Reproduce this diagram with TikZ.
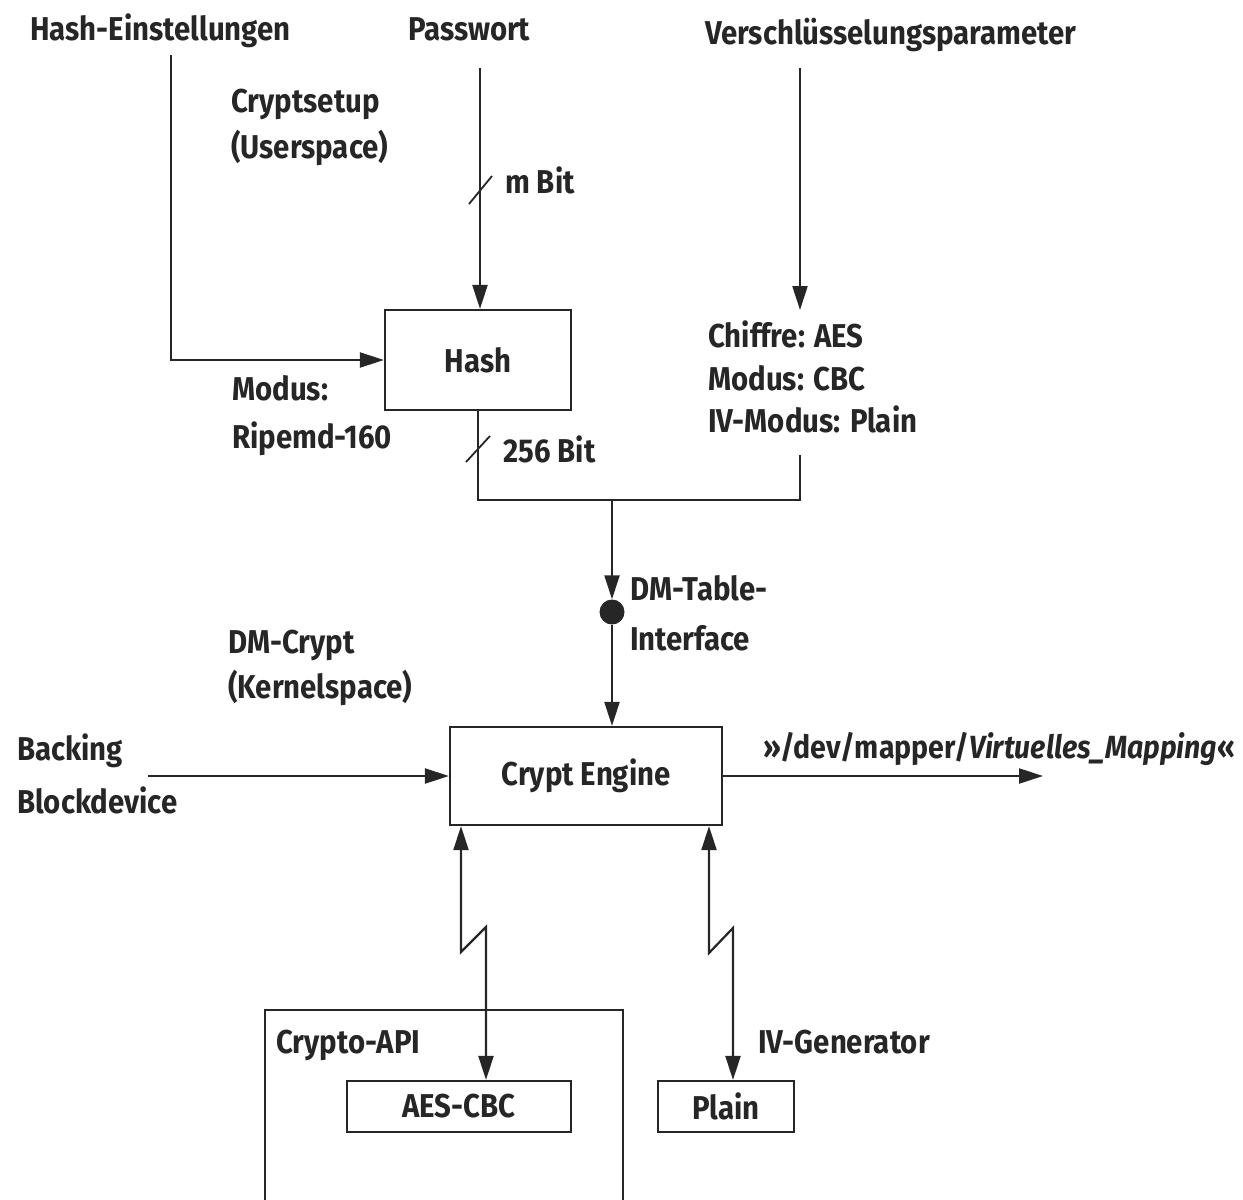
\documentclass[tikz,border=0pt]{standalone}
\usepackage{fontspec}
\setmainfont{Fira Sans}[FakeStretch=0.89]
\usetikzlibrary{arrows.meta}

\begin{document}
\begin{tikzpicture}[x=1pt,y=-1pt,
  every node/.style={font=\fontsize{33}{40}\selectfont\bfseries, inner sep=0pt, text=black!85},
  lab/.style={anchor=base west},
  boxnode/.style={draw=black!85, line width=2.2pt},
  wire/.style={line width=2.2pt, draw=black!85},
  tip/.style={-{Triangle[length=24pt,width=15pt]}},
  bitip/.style={{Triangle[length=24pt,width=15pt]}-{Triangle[length=24pt,width=15pt]}}]

\useasboundingbox (0,0) rectangle (1243,1200);

% --- inputs (top row)
\node[lab] (hset) at (30,40) {Hash-Einstellungen};
\node[lab] (pw) at (408,40) {Passwort};
\node[lab] (vpar) at (705,44) {Verschlüsselungsparameter};

% --- region labels
\node[lab] (cs1) at (231,112) {Cryptsetup};
\node[lab] (cs2) at (231,158) {(Userspace)};
\node[lab] (dm1) at (228,653) {DM-Crypt};
\node[lab] (dm2) at (228,698) {(Kernelspace)};

% --- blocks
\node[boxnode, minimum width=186pt, minimum height=100pt] (hash) at (478,360) {Hash};
\node[boxnode, minimum width=272pt, minimum height=98pt] (crypt) at (586,776) {Crypt Engine};
\node[boxnode, minimum width=224pt, minimum height=51pt] (aes) at (459,1106.5) {AES-CBC};
\node[boxnode, minimum width=136pt, minimum height=51pt] (plain) at (726,1106.5) {Plain};

% Crypto-API frame, open towards the bottom
\draw[wire] (265,1200) -- (265,1010) -- (623,1010) -- (623,1200);
\node[lab] (capi) at (276,1053) {Crypto-API};
\node[lab] (ivgen) at (758,1053) {IV-Generator};

% --- annotations
\node[lab] (mbit) at (505,193) {m Bit};
\node[lab] (mod1) at (232,400) {Modus:};
\node[lab] (mod2) at (232,448) {Ripemd-160};
\node[lab] (b256) at (503,462) {256 Bit};
\node[lab] (ch1) at (708,347) {Chiffre: AES};
\node[lab] (ch2) at (708,390) {Modus: CBC};
\node[lab] (ch3) at (708,432) {IV-Modus: Plain};
\node[lab] (dmt1) at (630,600) {DM-Table-};
\node[lab] (dmt2) at (630,650) {Interface};
\node[lab] (bk1) at (17,760) {Backing};
\node[lab] (bk2) at (17,813) {Blockdevice};
\node[lab] (map) at (763,758) {\resizebox{472pt}{!}{»/dev/mapper/\textit{Virtuelles\_Mapping}«}};

% --- connector end points
\coordinate (hsetTail) at (171,55);
\coordinate (pwTail) at (480,68);
\coordinate (vparTail) at (800,68);
\coordinate (vparHead) at (800,310);
\coordinate (parTail) at (800,455);
\coordinate (join) at (612,500);
\coordinate (bkTail) at (148,776);
\coordinate (mapHead) at (1043,776);

% DM table interface dot
\node[circle, fill=black!85, minimum size=25pt] (dot) at (612,612) {};

% --- connectors
\draw[wire, tip] (hsetTail) |- (hash.west);
\draw[wire, tip] (pwTail) -- (pwTail |- hash.north);
\draw[wire, tip] (vparTail) -- (vparHead);
\draw[wire] (hash.south) |- (join) -| (parTail);
\draw[wire, tip] (join) -- (dot.north);
\draw[wire, tip] (dot.south) -- (dot |- crypt.north);
\draw[wire, tip] (bkTail) -- (crypt.west);
\draw[wire, tip] (crypt.east) -- (mapHead);

% bus-width marks
\draw[wire, line width=1.8pt] (469,204) -- (492,176);
\draw[wire, line width=1.8pt] (466,462) -- (490,436);

% links with lightning-style break
\draw[wire, bitip] (crypt.south -| 461,0) -- (461,952) -- (486,927) -- (aes.north -| 486,0);
\draw[wire, bitip] (crypt.south -| 709,0) -- (709,953) -- (733,928) -- (plain.north -| 733,0);

\end{tikzpicture}
\end{document}
